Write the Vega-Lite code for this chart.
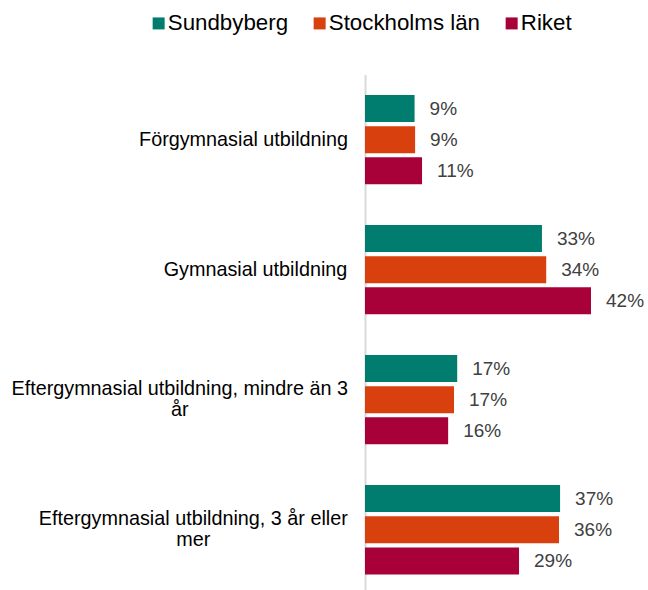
{
  "$schema": "https://vega.github.io/schema/vega-lite/v6.json",
  "width": 266.5,
  "height": 515.5,
  "autosize": {"type": "none"},
  "padding": {"left": 365, "top": 74.5, "right": 16.5, "bottom": 0},
  "background": "white",
  "config": {"view": {"stroke": null}, "font": "Liberation Sans"},
  "datasets": {
    "bars": [
      {"category": "Förgymnasial utbildning", "series": "Sundbyberg", "value": 0.093},
      {"category": "Förgymnasial utbildning", "series": "Stockholms län", "value": 0.094},
      {"category": "Förgymnasial utbildning", "series": "Riket", "value": 0.107},
      {"category": "Gymnasial utbildning", "series": "Sundbyberg", "value": 0.332},
      {"category": "Gymnasial utbildning", "series": "Stockholms län", "value": 0.340},
      {"category": "Gymnasial utbildning", "series": "Riket", "value": 0.424},
      {"category": "Eftergymnasial utbildning, mindre än 3 år", "series": "Sundbyberg", "value": 0.173},
      {"category": "Eftergymnasial utbildning, mindre än 3 år", "series": "Stockholms län", "value": 0.167},
      {"category": "Eftergymnasial utbildning, mindre än 3 år", "series": "Riket", "value": 0.156},
      {"category": "Eftergymnasial utbildning, 3 år eller mer", "series": "Sundbyberg", "value": 0.366},
      {"category": "Eftergymnasial utbildning, 3 år eller mer", "series": "Stockholms län", "value": 0.364},
      {"category": "Eftergymnasial utbildning, 3 år eller mer", "series": "Riket", "value": 0.289}
    ],
    "cats": [
      {"category": "Förgymnasial utbildning", "label": "Förgymnasial utbildning"},
      {"category": "Gymnasial utbildning", "label": "Gymnasial utbildning"},
      {"category": "Eftergymnasial utbildning, mindre än 3 år", "label": "Eftergymnasial utbildning, mindre än 3|år"},
      {"category": "Eftergymnasial utbildning, 3 år eller mer", "label": "Eftergymnasial utbildning, 3 år eller|mer"}
    ]
  },
  "layer": [
    {
      "data": {"name": "bars"},
      "mark": {"type": "bar"},
      "encoding": {
        "y": {
          "field": "category",
          "type": "nominal",
          "sort": ["Förgymnasial utbildning", "Gymnasial utbildning", "Eftergymnasial utbildning, mindre än 3 år", "Eftergymnasial utbildning, 3 år eller mer"],
          "scale": {"paddingInner": 0.313, "paddingOuter": 0.139, "align": 0.568},
          "axis": {
            "title": null,
            "domain": true,
            "domainColor": "#d9d9d9",
            "domainWidth": 2,
            "ticks": false,
            "grid": false,
            "labels": false
          }
        },
        "yOffset": {
          "field": "series",
          "type": "nominal",
          "sort": ["Sundbyberg", "Stockholms län", "Riket"],
          "scale": {"paddingInner": 0.133, "paddingOuter": 0}
        },
        "x": {
          "field": "value",
          "type": "quantitative",
          "scale": {"domain": [0, 0.5]},
          "axis": null
        },
        "color": {
          "field": "series",
          "type": "nominal",
          "sort": ["Sundbyberg", "Stockholms län", "Riket"],
          "scale": {"domain": ["Sundbyberg", "Stockholms län", "Riket"], "range": ["#007D6E", "#D8400E", "#A80038"]},
          "legend": {
            "orient": "none",
            "legendX": -217.5,
            "legendY": -62.5,
            "direction": "horizontal",
            "title": null,
            "padding": 0,
            "symbolType": "square",
            "symbolSize": 144,
            "symbolStrokeWidth": 0,
            "labelFontSize": 22.3,
            "labelColor": "#000000",
            "labelOffset": -2,
            "columnPadding": 20,
            "labelLimit": 0
          }
        }
      }
    },
    {
      "data": {"name": "bars"},
      "mark": {"type": "text", "align": "left", "baseline": "middle", "dx": 15, "fontSize": 19, "color": "#404040"},
      "encoding": {
        "y": {"field": "category", "type": "nominal", "sort": ["Förgymnasial utbildning", "Gymnasial utbildning", "Eftergymnasial utbildning, mindre än 3 år", "Eftergymnasial utbildning, 3 år eller mer"]},
        "yOffset": {"field": "series", "type": "nominal", "sort": ["Sundbyberg", "Stockholms län", "Riket"]},
        "x": {"field": "value", "type": "quantitative"},
        "text": {"field": "value", "type": "quantitative", "format": ".0%"}
      }
    },
    {
      "data": {"name": "cats"},
      "mark": {
        "type": "text",
        "align": "center",
        "baseline": "middle",
        "lineBreak": "|",
        "lineHeight": 21.5,
        "fontSize": 19.8,
        "color": "#000000",
        "dx": {"expr": "datum.category == 'Förgymnasial utbildning' ? -121.5 : datum.category == 'Gymnasial utbildning' ? -109.5 : datum.category == 'Eftergymnasial utbildning, mindre än 3 år' ? -185.3 : -171.7"},
        "dy": {"expr": "indexof(datum.label, '|') >= 0 ? -10.75 : 0"}
      },
      "encoding": {
        "y": {"field": "category", "type": "nominal", "sort": ["Förgymnasial utbildning", "Gymnasial utbildning", "Eftergymnasial utbildning, mindre än 3 år", "Eftergymnasial utbildning, 3 år eller mer"]},
        "x": {"datum": 0, "type": "quantitative"},
        "text": {"field": "label", "type": "nominal"}
      }
    }
  ]
}
